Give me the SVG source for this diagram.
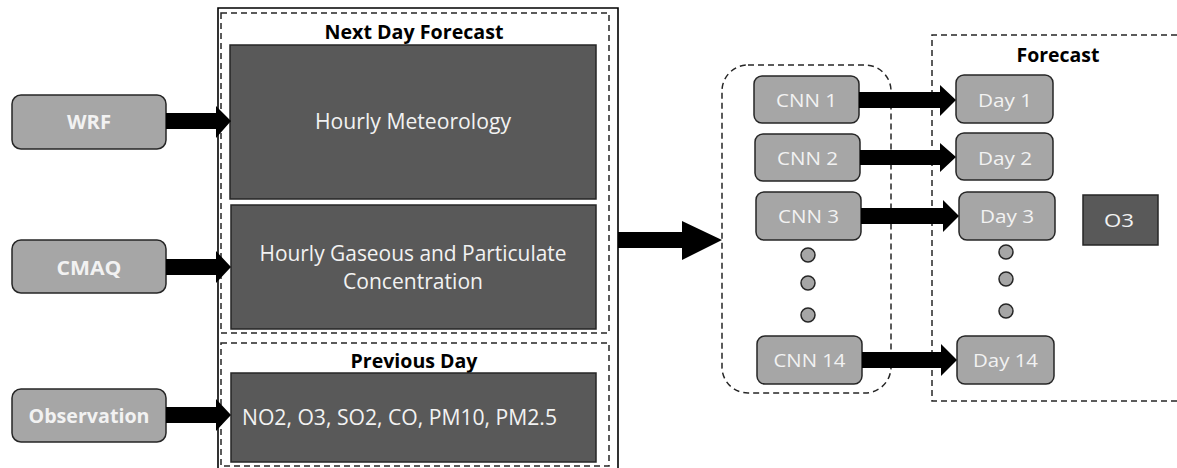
<svg xmlns="http://www.w3.org/2000/svg" width="1177" height="468" viewBox="0 0 1177 468">
  <style>
    .src { fill: #a6a6a6; stroke: #262626; stroke-width: 1.5; }
    .blk { fill: #595959; stroke: #262626; stroke-width: 1.5; }
    .dot { fill: #a6a6a6; stroke: #262626; stroke-width: 1.5; }
    .dash { fill: none; stroke: #262626; stroke-width: 1.5; stroke-dasharray: 6 4; }
    .frame { fill: none; stroke: #000; stroke-width: 1.6; }
    .lbl { font-family: "Open Sans", "Noto Sans", sans-serif; fill: #f2f2f2; text-anchor: middle; }
    .bold { font-weight: bold; }
    .ttl { font-family: "Open Sans", "Noto Sans", sans-serif; font-weight: bold; fill: #000; text-anchor: middle; font-size: 19px; }
    .arr { fill: #000; }
  </style>

  <!-- input frame and its two dashed sections -->
  <g id="input-frame">
    <path class="frame" d="M218 468 V8 H618 V468"/>
    <rect class="dash" x="221" y="13" width="388" height="320"/>
    <rect class="dash" x="221" y="343" width="388" height="123"/>
    <text class="ttl" x="414" y="39" textLength="179" lengthAdjust="spacingAndGlyphs">Next Day Forecast</text>
    <text class="ttl" x="414" y="368" textLength="127" lengthAdjust="spacingAndGlyphs">Previous Day</text>
  </g>

  <!-- model ensemble and forecast groupings -->
  <g id="cnn-group">
    <rect class="dash" x="722" y="65" width="169" height="328" rx="26" ry="26"/>
  </g>
  <g id="forecast-group">
    <path class="dash" d="M1177 35 H932 V401 H1177"/>
    <text class="ttl" x="1058" y="62" textLength="83" lengthAdjust="spacingAndGlyphs">Forecast</text>
  </g>

  <!-- sources -->
  <g id="wrf">
    <rect class="src" x="12" y="95" width="154" height="54" rx="9"/>
    <text class="lbl bold" x="89" y="129" font-size="20" textLength="44" lengthAdjust="spacingAndGlyphs">WRF</text>
  </g>
  <g id="cmaq">
    <rect class="src" x="12" y="240" width="154" height="53" rx="9"/>
    <text class="lbl bold" x="89" y="275" font-size="20" textLength="65" lengthAdjust="spacingAndGlyphs">CMAQ</text>
  </g>
  <g id="observation">
    <rect class="src" x="12" y="389" width="154" height="53" rx="9"/>
    <text class="lbl bold" x="89" y="423" font-size="20" textLength="121" lengthAdjust="spacingAndGlyphs">Observation</text>
  </g>

  <!-- input data blocks -->
  <g id="meteorology">
    <rect class="blk" x="230" y="45" width="366" height="154"/>
    <text class="lbl" x="413" y="129" font-size="21" textLength="196" lengthAdjust="spacingAndGlyphs">Hourly Meteorology</text>
  </g>
  <g id="concentration">
    <rect class="blk" x="231" y="205" width="365" height="124"/>
    <text class="lbl" x="413" y="261" font-size="21" textLength="307" lengthAdjust="spacingAndGlyphs">Hourly Gaseous and Particulate</text>
    <text class="lbl" x="413" y="289" font-size="21" textLength="140" lengthAdjust="spacingAndGlyphs">Concentration</text>
  </g>
  <g id="observed-species">
    <rect class="blk" x="231" y="373" width="365" height="89"/>
    <text class="lbl" x="399.5" y="425" font-size="21" textLength="315" lengthAdjust="spacingAndGlyphs">NO2, O3, SO2, CO, PM10, PM2.5</text>
  </g>

  <!-- CNN models -->
  <g id="cnn1">
    <rect class="src" x="754" y="76" width="105" height="47" rx="8"/>
    <text class="lbl" x="806.5" y="107" font-size="18" textLength="61" lengthAdjust="spacingAndGlyphs">CNN 1</text>
  </g>
  <g id="cnn2">
    <rect class="src" x="755" y="134" width="105" height="47" rx="8"/>
    <text class="lbl" x="807.5" y="165" font-size="18" textLength="61" lengthAdjust="spacingAndGlyphs">CNN 2</text>
  </g>
  <g id="cnn3">
    <rect class="src" x="756" y="192" width="105" height="48" rx="8"/>
    <text class="lbl" x="808.5" y="223" font-size="18" textLength="61" lengthAdjust="spacingAndGlyphs">CNN 3</text>
  </g>
  <g id="cnn-dots">
    <circle class="dot" cx="808" cy="255" r="7"/>
    <circle class="dot" cx="808" cy="283" r="7"/>
    <circle class="dot" cx="808" cy="315" r="7"/>
  </g>
  <g id="cnn14">
    <rect class="src" x="757" y="336" width="105" height="48" rx="8"/>
    <text class="lbl" x="809.5" y="367" font-size="18" textLength="72" lengthAdjust="spacingAndGlyphs">CNN 14</text>
  </g>

  <!-- forecast days -->
  <g id="day1">
    <rect class="src" x="956" y="75" width="97" height="48" rx="8"/>
    <text class="lbl" x="1005" y="107" font-size="18" textLength="54" lengthAdjust="spacingAndGlyphs">Day 1</text>
  </g>
  <g id="day2">
    <rect class="src" x="956" y="133" width="97" height="47" rx="8"/>
    <text class="lbl" x="1005" y="165" font-size="18" textLength="54" lengthAdjust="spacingAndGlyphs">Day 2</text>
  </g>
  <g id="day3">
    <rect class="src" x="959" y="192" width="96" height="48" rx="8"/>
    <text class="lbl" x="1007" y="223" font-size="18" textLength="54" lengthAdjust="spacingAndGlyphs">Day 3</text>
  </g>
  <g id="day-dots">
    <circle class="dot" cx="1006" cy="252" r="7"/>
    <circle class="dot" cx="1006" cy="279" r="7"/>
    <circle class="dot" cx="1006" cy="311" r="7"/>
  </g>
  <g id="day14">
    <rect class="src" x="957" y="336" width="97" height="48" rx="8"/>
    <text class="lbl" x="1005.5" y="367" font-size="18" textLength="65" lengthAdjust="spacingAndGlyphs">Day 14</text>
  </g>

  <g id="o3">
    <rect class="blk" x="1083" y="195" width="75" height="50"/>
    <text class="lbl" x="1119" y="227" font-size="18" textLength="30" lengthAdjust="spacingAndGlyphs">O3</text>
  </g>

  <!-- block arrows -->
  <g id="connectors">
    <polygon class="arr" points="166,113 216,113 216,106 231,121 216,138 216,129 166,129"/>
    <polygon class="arr" points="166,259 216,259 216,251 231,267 216,283 216,275 166,275"/>
    <polygon class="arr" points="166,407 216,407 216,399 231,415 216,431 216,423 166,423"/>
    <polygon class="arr" points="618,232 682,232 682,221 722,240 682,260 682,248 618,248"/>
    <polygon class="arr" points="859,92 940,92 940,85 956,100 940,116 940,108 859,108"/>
    <polygon class="arr" points="860,150 940,150 940,143 956,157 940,172 940,165 860,165"/>
    <polygon class="arr" points="861,208 943,208 943,200 959,216 943,232 943,224 861,224"/>
    <polygon class="arr" points="862,352 941,352 941,344 957,360 941,376 941,368 862,368"/>
  </g>
</svg>
